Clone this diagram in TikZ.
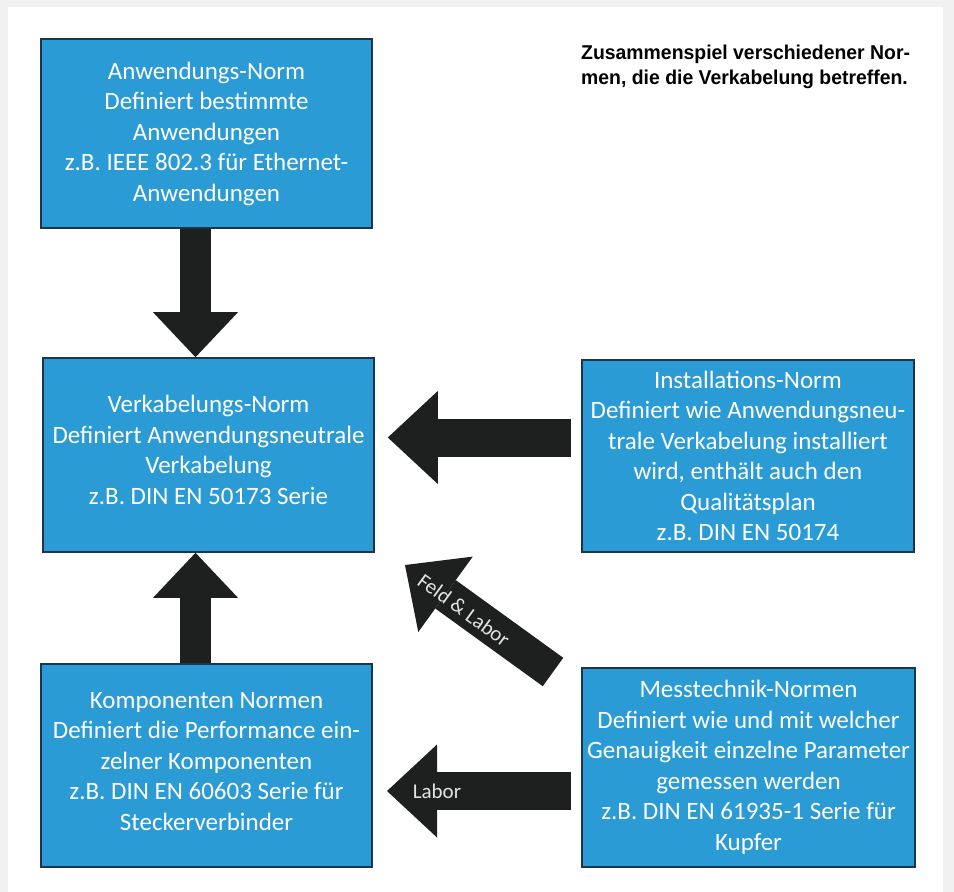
\documentclass[tikz,border=0pt]{standalone}
\usepackage{fontspec}
\setmainfont{Carlito}
\newfontfamily\titlefont{Liberation Sans}[FakeStretch=0.97]
\usetikzlibrary{arrows.meta}
\definecolor{boxblue}{HTML}{2A9BD4}
\definecolor{boxline}{HTML}{1E3448}
\definecolor{arrowdark}{HTML}{1E201F}
\definecolor{pagebg}{HTML}{F1F1F1}
\definecolor{labelgrey}{HTML}{E4E4E4}
\tikzset{
  normbox/.style={draw=boxline, line width=1.6pt, fill=boxblue, text=white,
    minimum width=#1, inner sep=0pt, align=center,
    font=\fontsize{25}{30.5}\selectfont},
  vblock/.style={color=arrowdark, line width=31pt,
    -{Triangle[width=85pt,length=45pt,line width=0pt]}},
  hblock/.style={color=arrowdark, line width=38pt,
    -{Triangle[width=93pt,length=50pt,line width=0pt]}},
  dblock/.style={color=arrowdark, line width=35pt,
    -{Triangle[width=93pt,length=50pt,line width=0pt]}},
  arrlabel/.style={text=labelgrey, font=\fontsize{21}{24}\selectfont, inner sep=0pt},
  titletext/.style={font=\titlefont\bfseries\fontsize{20}{25}\selectfont, align=left, inner sep=0pt, anchor=north west}
}
\begin{document}
\begin{tikzpicture}[x=1pt,y=-1pt]
\useasboundingbox (0,0) rectangle (954,892);
\fill[pagebg] (0,0) rectangle (954,892);
\fill[white] (8,7) rectangle (943,892);

\node[normbox=331pt, minimum height=189pt] (anw) at (206.5,133.5)
  {Anwendungs-Norm\\Definiert bestimmte\\Anwendungen\\z.B. IEEE 802.3 für Ethernet-\\Anwendungen};
\node[normbox=331pt, minimum height=194pt, text depth=10pt] (verk) at (208.5,455)
  {Verkabelungs-Norm\\Definiert Anwendungsneutrale\\Verkabelung\\z.B. DIN EN 50173 Serie};
\node[normbox=332pt, minimum height=192pt] (inst) at (748,456)
  {Installations-Norm\\Definiert wie Anwendungsneu-\\trale Verkabelung installiert\\wird, enthält auch den\\Qualitätsplan\\z.B. DIN EN 50174};
\node[normbox=331pt, minimum height=203pt, text depth=9pt] (komp) at (206.5,765.5)
  {Komponenten Normen\\Definiert die Performance ein-\\zelner Komponenten\\z.B. DIN EN 60603 Serie für\\Steckerverbinder};
\node[normbox=333pt, minimum height=199pt] (mess) at (748.5,767.5)
  {Messtechnik-Normen\\Definiert wie und mit welcher\\Genauigkeit einzelne Parameter\\gemessen werden\\z.B. DIN EN 61935-1 Serie für\\Kupfer};

\node[titletext] (title) at (581,45)
  {Zusammenspiel verschiedener Nor-\\men, die die Verkabelung betreffen.};

% block arrows
\draw[vblock] ([xshift=-11pt]anw.south) -- ([xshift=-11pt]anw.south |- verk.north);
\draw[vblock] ([xshift=-11pt]komp.north) -- ([xshift=-11pt]komp.north |- verk.south);
\coordinate (itail) at ([shift={(-10,-18.5)}]inst.west);
\coordinate (iend) at ([xshift=13pt]verk.east);
\draw[hblock] (itail) -- (itail -| iend);
\coordinate (labtail) at ([shift={(-10,23.5)}]mess.west);
\coordinate (labtip) at (387,791);
\draw[hblock] (labtail) -- (labtip);
\node[arrlabel] (labor) at (437,791) {Labor};
\coordinate (dtail) at (553,672);
\coordinate (dtip) at (405,565);
\draw[dblock] (dtail) -- (dtip);
\node[arrlabel, rotate=-36] (feld) at (464,610) {Feld \& Labor};
\end{tikzpicture}
\end{document}
